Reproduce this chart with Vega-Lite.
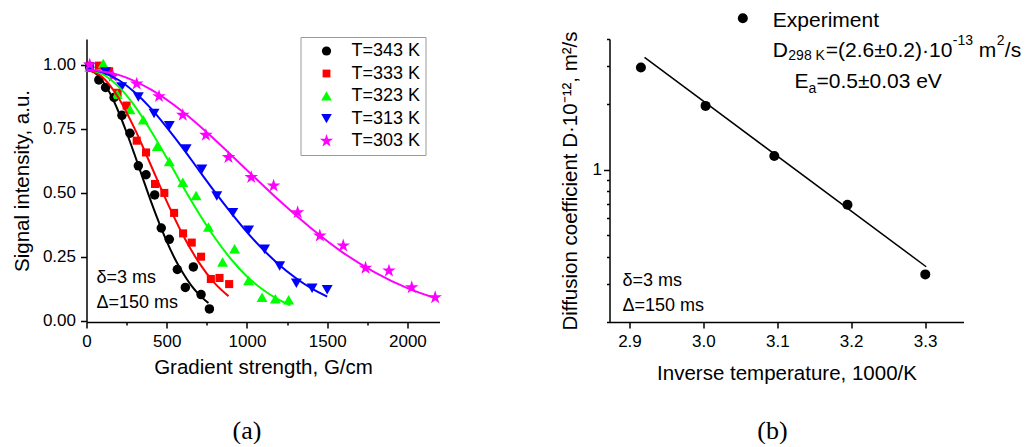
{
  "$schema": "https://vega.github.io/schema/vega-lite/v6.json",
  "background": "white",
  "padding": {"left": 11.5, "top": 9, "right": 5, "bottom": 0},
  "bounds": "flush",
  "spacing": 170,
  "config": {
    "view": {"stroke": null},
    "font": "Liberation Sans",
    "axis": {"domainColor": "black", "domainWidth": 1.5, "tickColor": "black", "tickWidth": 1.5, "labelColor": "black", "titleColor": "black", "labelFont": "Liberation Sans", "titleFont": "Liberation Sans", "labelFontSize": 17, "titleFontSize": 20.5, "titleFontWeight": "normal", "grid": false, "labelPadding": 5, "labelOverlap": false, "labelFlush": false, "labelBound": false}
  },
  "datasets": {
    "points": [
      {"G": 20, "I": 0.99, "T": "T=343 K"}, {"G": 77, "I": 0.94, "T": "T=343 K"}, {"G": 119, "I": 0.911, "T": "T=343 K"}, {"G": 172, "I": 0.872, "T": "T=343 K"}, {"G": 221, "I": 0.802, "T": "T=343 K"}, {"G": 271, "I": 0.732, "T": "T=343 K"}, {"G": 323, "I": 0.605, "T": "T=343 K"}, {"G": 371, "I": 0.57, "T": "T=343 K"}, {"G": 425, "I": 0.491, "T": "T=343 K"}, {"G": 466, "I": 0.362, "T": "T=343 K"}, {"G": 516, "I": 0.318, "T": "T=343 K"}, {"G": 566, "I": 0.2, "T": "T=343 K"}, {"G": 616, "I": 0.13, "T": "T=343 K"}, {"G": 666, "I": 0.21, "T": "T=343 K"}, {"G": 714, "I": 0.102, "T": "T=343 K"}, {"G": 766, "I": 0.046, "T": "T=343 K"},
      {"G": 20, "I": 0.995, "T": "T=333 K"}, {"G": 78, "I": 0.996, "T": "T=333 K"}, {"G": 141, "I": 0.974, "T": "T=333 K"}, {"G": 194, "I": 0.89, "T": "T=333 K"}, {"G": 250, "I": 0.84, "T": "T=333 K"}, {"G": 313, "I": 0.703, "T": "T=333 K"}, {"G": 371, "I": 0.657, "T": "T=333 K"}, {"G": 427, "I": 0.534, "T": "T=333 K"}, {"G": 485, "I": 0.499, "T": "T=333 K"}, {"G": 546, "I": 0.421, "T": "T=333 K"}, {"G": 602, "I": 0.341, "T": "T=333 K"}, {"G": 656, "I": 0.305, "T": "T=333 K"}, {"G": 714, "I": 0.25, "T": "T=333 K"}, {"G": 775, "I": 0.163, "T": "T=333 K"}, {"G": 829, "I": 0.167, "T": "T=333 K"}, {"G": 889, "I": 0.143, "T": "T=333 K"},
      {"G": 20, "I": 0.99, "T": "T=323 K"}, {"G": 104, "I": 1.003, "T": "T=323 K"}, {"G": 191, "I": 0.883, "T": "T=323 K"}, {"G": 271, "I": 0.824, "T": "T=323 K"}, {"G": 354, "I": 0.784, "T": "T=323 K"}, {"G": 441, "I": 0.68, "T": "T=323 K"}, {"G": 516, "I": 0.621, "T": "T=323 K"}, {"G": 600, "I": 0.54, "T": "T=323 K"}, {"G": 683, "I": 0.488, "T": "T=323 K"}, {"G": 760, "I": 0.365, "T": "T=323 K"}, {"G": 848, "I": 0.228, "T": "T=323 K"}, {"G": 923, "I": 0.28, "T": "T=323 K"}, {"G": 1010, "I": 0.156, "T": "T=323 K"}, {"G": 1094, "I": 0.091, "T": "T=323 K"}, {"G": 1177, "I": 0.085, "T": "T=323 K"}, {"G": 1260, "I": 0.081, "T": "T=323 K"},
      {"G": 20, "I": 0.99, "T": "T=313 K"}, {"G": 119, "I": 0.972, "T": "T=313 K"}, {"G": 219, "I": 0.914, "T": "T=313 K"}, {"G": 323, "I": 0.874, "T": "T=313 K"}, {"G": 421, "I": 0.81, "T": "T=313 K"}, {"G": 516, "I": 0.762, "T": "T=313 K"}, {"G": 621, "I": 0.671, "T": "T=313 K"}, {"G": 719, "I": 0.592, "T": "T=313 K"}, {"G": 812, "I": 0.488, "T": "T=313 K"}, {"G": 912, "I": 0.423, "T": "T=313 K"}, {"G": 1010, "I": 0.354, "T": "T=313 K"}, {"G": 1110, "I": 0.28, "T": "T=313 K"}, {"G": 1204, "I": 0.215, "T": "T=313 K"}, {"G": 1308, "I": 0.147, "T": "T=313 K"}, {"G": 1406, "I": 0.128, "T": "T=313 K"}, {"G": 1500, "I": 0.122, "T": "T=313 K"},
      {"G": 20, "I": 1.0, "T": "T=303 K"}, {"G": 164, "I": 0.955, "T": "T=303 K"}, {"G": 313, "I": 0.925, "T": "T=303 K"}, {"G": 452, "I": 0.876, "T": "T=303 K"}, {"G": 600, "I": 0.803, "T": "T=303 K"}, {"G": 744, "I": 0.725, "T": "T=303 K"}, {"G": 885, "I": 0.638, "T": "T=303 K"}, {"G": 1027, "I": 0.56, "T": "T=303 K"}, {"G": 1166, "I": 0.527, "T": "T=303 K"}, {"G": 1316, "I": 0.423, "T": "T=303 K"}, {"G": 1454, "I": 0.332, "T": "T=303 K"}, {"G": 1600, "I": 0.293, "T": "T=303 K"}, {"G": 1739, "I": 0.206, "T": "T=303 K"}, {"G": 1885, "I": 0.195, "T": "T=303 K"}, {"G": 2027, "I": 0.13, "T": "T=303 K"}, {"G": 2173, "I": 0.091, "T": "T=303 K"}
    ],
    "curves": [
      {"G": 0, "I": 0.98, "T": "T=343 K"}, {"G": 50, "I": 0.969, "T": "T=343 K"}, {"G": 100, "I": 0.936, "T": "T=343 K"}, {"G": 150, "I": 0.884, "T": "T=343 K"}, {"G": 200, "I": 0.815, "T": "T=343 K"}, {"G": 250, "I": 0.735, "T": "T=343 K"}, {"G": 300, "I": 0.648, "T": "T=343 K"}, {"G": 350, "I": 0.558, "T": "T=343 K"}, {"G": 400, "I": 0.469, "T": "T=343 K"}, {"G": 450, "I": 0.386, "T": "T=343 K"}, {"G": 500, "I": 0.31, "T": "T=343 K"}, {"G": 550, "I": 0.243, "T": "T=343 K"}, {"G": 600, "I": 0.187, "T": "T=343 K"}, {"G": 650, "I": 0.14, "T": "T=343 K"}, {"G": 700, "I": 0.103, "T": "T=343 K"}, {"G": 760, "I": 0.069, "T": "T=343 K"},
      {"G": 0, "I": 0.98, "T": "T=333 K"}, {"G": 100, "I": 0.951, "T": "T=333 K"}, {"G": 200, "I": 0.87, "T": "T=333 K"}, {"G": 300, "I": 0.75, "T": "T=333 K"}, {"G": 400, "I": 0.609, "T": "T=333 K"}, {"G": 500, "I": 0.466, "T": "T=333 K"}, {"G": 600, "I": 0.336, "T": "T=333 K"}, {"G": 700, "I": 0.228, "T": "T=333 K"}, {"G": 800, "I": 0.146, "T": "T=333 K"}, {"G": 885, "I": 0.096, "T": "T=333 K"},
      {"G": 0, "I": 0.98, "T": "T=323 K"}, {"G": 100, "I": 0.963, "T": "T=323 K"}, {"G": 200, "I": 0.914, "T": "T=323 K"}, {"G": 300, "I": 0.839, "T": "T=323 K"}, {"G": 400, "I": 0.743, "T": "T=323 K"}, {"G": 500, "I": 0.636, "T": "T=323 K"}, {"G": 600, "I": 0.525, "T": "T=323 K"}, {"G": 700, "I": 0.42, "T": "T=323 K"}, {"G": 800, "I": 0.324, "T": "T=323 K"}, {"G": 900, "I": 0.241, "T": "T=323 K"}, {"G": 1000, "I": 0.173, "T": "T=323 K"}, {"G": 1100, "I": 0.121, "T": "T=323 K"}, {"G": 1200, "I": 0.081, "T": "T=323 K"}, {"G": 1270, "I": 0.06, "T": "T=323 K"},
      {"G": 0, "I": 0.98, "T": "T=313 K"}, {"G": 100, "I": 0.97, "T": "T=313 K"}, {"G": 200, "I": 0.94, "T": "T=313 K"}, {"G": 300, "I": 0.892, "T": "T=313 K"}, {"G": 400, "I": 0.83, "T": "T=313 K"}, {"G": 500, "I": 0.755, "T": "T=313 K"}, {"G": 600, "I": 0.674, "T": "T=313 K"}, {"G": 700, "I": 0.588, "T": "T=313 K"}, {"G": 800, "I": 0.503, "T": "T=313 K"}, {"G": 900, "I": 0.422, "T": "T=313 K"}, {"G": 1000, "I": 0.346, "T": "T=313 K"}, {"G": 1100, "I": 0.278, "T": "T=313 K"}, {"G": 1200, "I": 0.219, "T": "T=313 K"}, {"G": 1300, "I": 0.169, "T": "T=313 K"}, {"G": 1400, "I": 0.127, "T": "T=313 K"}, {"G": 1500, "I": 0.094, "T": "T=313 K"},
      {"G": 0, "I": 0.98, "T": "T=303 K"}, {"G": 200, "I": 0.96, "T": "T=303 K"}, {"G": 400, "I": 0.903, "T": "T=303 K"}, {"G": 600, "I": 0.816, "T": "T=303 K"}, {"G": 800, "I": 0.707, "T": "T=303 K"}, {"G": 1000, "I": 0.588, "T": "T=303 K"}, {"G": 1200, "I": 0.47, "T": "T=303 K"}, {"G": 1400, "I": 0.361, "T": "T=303 K"}, {"G": 1600, "I": 0.265, "T": "T=303 K"}, {"G": 1800, "I": 0.188, "T": "T=303 K"}, {"G": 2000, "I": 0.127, "T": "T=303 K"}, {"G": 2180, "I": 0.087, "T": "T=303 K"}
    ],
    "exp": [
      {"invT": 2.9155, "D": 2.96, "lo": 2.87, "hi": 3.06},
      {"invT": 3.003, "D": 1.97, "lo": 1.92, "hi": 2.02},
      {"invT": 3.096, "D": 1.16, "lo": 1.13, "hi": 1.19},
      {"invT": 3.195, "D": 0.692, "lo": 0.675, "hi": 0.71},
      {"invT": 3.3003, "D": 0.331, "lo": 0.322, "hi": 0.34}
    ],
    "fit": [
      {"invT": 2.9204, "D": 3.29},
      {"invT": 3.3015, "D": 0.359}
    ]
  },
  "hconcat": [
    {
      "width": 353,
      "height": 283,
      "title": {"text": "(a)", "orient": "bottom", "anchor": "middle", "font": "Liberation Serif", "fontSize": 26, "fontWeight": "normal", "color": "black", "offset": 40, "dx": -16},
      "layer": [
        {
          "data": {"name": "points"},
          "mark": {"type": "point", "filled": true, "opacity": 1, "strokeWidth": 0, "size": 90},
          "encoding": {
            "x": {"field": "G", "type": "quantitative", "scale": {"domain": [0, 2200], "nice": false, "zero": false},
              "axis": {"title": "Gradient strength, G/cm", "values": [0, 250, 500, 750, 1000, 1250, 1500, 1750, 2000], "labelExpr": "datum.value % 500 == 0 ? format(datum.value, 'd') : ''", "tickSize": {"condition": {"test": "datum.value % 500 == 0", "value": 6}, "value": 3}, "titlePadding": 8}},
            "y": {"field": "I", "type": "quantitative", "scale": {"domain": [-0.005, 1.1], "nice": false, "zero": false},
              "axis": {"title": "Signal intensity, a.u.", "values": [0, 0.125, 0.25, 0.375, 0.5, 0.625, 0.75, 0.875, 1], "labelExpr": "(datum.value * 4) % 1 == 0 ? format(datum.value, '.2f') : ''", "tickSize": {"condition": {"test": "(datum.value * 4) % 1 == 0", "value": 6}, "value": 3}, "titlePadding": 10}},
            "color": {"field": "T", "type": "nominal", "scale": {"domain": ["T=343 K", "T=333 K", "T=323 K", "T=313 K", "T=303 K"], "range": ["#000000", "#ff0000", "#00ff00", "#0000ff", "#ff00ff"]},
              "legend": {"title": null, "orient": "none", "legendX": 214, "legendY": -2, "strokeColor": "#999999", "fillColor": "white", "padding": 5, "rowPadding": 4.5, "symbolOffset": 12, "labelOffset": 16, "labelFontSize": 18, "labelFont": "Liberation Sans", "labelColor": "black", "symbolSize": 85, "symbolStrokeWidth": 0, "symbolOpacity": 1}},
            "shape": {"field": "T", "type": "nominal", "scale": {"domain": ["T=343 K", "T=333 K", "T=323 K", "T=313 K", "T=303 K"], "range": ["circle", "M-0.85,-0.85L0.85,-0.85L0.85,0.85L-0.85,0.85Z", "M0,-1.05L1.15,0.95L-1.15,0.95Z", "M0,1.05L1.15,-0.95L-1.15,-0.95Z", "M0,-1.5L0.3368,-0.4635L1.4266,-0.4635L0.5449,0.177L0.8817,1.2135L0,0.573L-0.8817,1.2135L-0.5449,0.177L-1.4266,-0.4635L-0.3368,-0.4635Z"]}}
          }
        },
        {
          "data": {"name": "curves"},
          "mark": {"type": "line", "strokeWidth": 2, "interpolate": "monotone"},
          "encoding": {
            "x": {"field": "G", "type": "quantitative"},
            "y": {"field": "I", "type": "quantitative"},
            "stroke": {"field": "T", "type": "nominal", "scale": {"domain": ["T=343 K", "T=333 K", "T=323 K", "T=313 K", "T=303 K"], "range": ["#000000", "#ff0000", "#00ff00", "#0000ff", "#ff00ff"]}, "legend": null}
          }
        },
        {
          "data": {"values": [{}]},
          "mark": {"type": "text", "text": "δ=3 ms", "align": "left", "baseline": "alphabetic", "fontSize": 18, "font": "Liberation Sans", "color": "black"},
          "encoding": {"x": {"datum": 62}, "y": {"datum": 0.146}}
        },
        {
          "data": {"values": [{}]},
          "mark": {"type": "text", "text": "Δ=150 ms", "align": "left", "baseline": "alphabetic", "fontSize": 18, "font": "Liberation Sans", "color": "black"},
          "encoding": {"x": {"datum": 62}, "y": {"datum": 0.048}}
        }
      ]
    },
    {
      "width": 354,
      "height": 283,
      "title": {"text": "(b)", "orient": "bottom", "anchor": "middle", "font": "Liberation Serif", "fontSize": 26, "fontWeight": "normal", "color": "black", "offset": 34, "dx": -14},
      "layer": [
        {
          "data": {"name": "fit"},
          "mark": {"type": "line", "color": "black", "strokeWidth": 1.5},
          "encoding": {
            "x": {"field": "invT", "type": "quantitative", "scale": {"domain": [2.873, 3.352], "nice": false, "zero": false},
              "axis": {"title": "Inverse temperature, 1000/K", "values": [2.9, 2.95, 3.0, 3.05, 3.1, 3.15, 3.2, 3.25, 3.3, 3.35], "labelExpr": "abs(datum.value * 10 - round(datum.value * 10)) < 0.001 ? format(datum.value, '.1f') : ''", "tickSize": {"condition": {"test": "abs(datum.value * 10 - round(datum.value * 10)) < 0.001", "value": 6}, "value": 3}, "titlePadding": 14}},
            "y": {"field": "D", "type": "quantitative", "scale": {"type": "log", "domain": [0.2, 4], "nice": false},
              "axis": {"title": "Diffusion coefficient D·10⁻¹², m²/s", "values": [0.2, 0.3, 0.4, 0.5, 0.6, 0.7, 0.8, 0.9, 1, 2, 3, 4], "labelExpr": "datum.value == 1 ? '1' : ''", "tickSize": {"condition": {"test": "datum.value == 1", "value": 6}, "value": 3}, "labelPadding": 2, "titlePadding": 12}}
          }
        },
        {
          "data": {"name": "exp"},
          "mark": {"type": "rule", "color": "black", "strokeWidth": 1.5},
          "encoding": {"x": {"field": "invT", "type": "quantitative"}, "y": {"field": "lo", "type": "quantitative"}, "y2": {"field": "hi"}}
        },
        {
          "data": {"name": "exp"},
          "mark": {"type": "circle", "color": "black", "size": 100, "opacity": 1},
          "encoding": {"x": {"field": "invT", "type": "quantitative"}, "y": {"field": "D", "type": "quantitative"}}
        },
        {
          "data": {"values": [{}]},
          "mark": {"type": "circle", "color": "black", "size": 100, "opacity": 1},
          "encoding": {"x": {"datum": 3.0534}, "y": {"datum": 4.98}}
        },
        {
          "data": {"values": [{}]},
          "mark": {"type": "text", "text": "Experiment", "align": "left", "baseline": "alphabetic", "fontSize": 21, "color": "black"},
          "encoding": {"x": {"datum": 3.094}, "y": {"datum": 4.556}}
        },
        {
          "data": {"values": [{}]},
          "mark": {"type": "text", "text": "D", "align": "left", "baseline": "alphabetic", "fontSize": 21, "color": "black"},
          "encoding": {"x": {"datum": 3.094}, "y": {"datum": 3.317}}
        },
        {
          "data": {"values": [{}]},
          "mark": {"type": "text", "text": "298 K", "align": "left", "baseline": "alphabetic", "fontSize": 14, "color": "black", "dx": 15.5, "dy": 3.5},
          "encoding": {"x": {"datum": 3.094}, "y": {"datum": 3.317}}
        },
        {
          "data": {"values": [{}]},
          "mark": {"type": "text", "text": "=(2.6±0.2)·10", "align": "left", "baseline": "alphabetic", "fontSize": 21, "color": "black", "dx": 53},
          "encoding": {"x": {"datum": 3.094}, "y": {"datum": 3.317}}
        },
        {
          "data": {"values": [{}]},
          "mark": {"type": "text", "text": "-13", "align": "left", "baseline": "alphabetic", "fontSize": 14, "color": "black", "dx": 180, "dy": -11.5},
          "encoding": {"x": {"datum": 3.094}, "y": {"datum": 3.317}}
        },
        {
          "data": {"values": [{}]},
          "mark": {"type": "text", "text": "m", "align": "left", "baseline": "alphabetic", "fontSize": 21, "color": "black", "dx": 206},
          "encoding": {"x": {"datum": 3.094}, "y": {"datum": 3.317}}
        },
        {
          "data": {"values": [{}]},
          "mark": {"type": "text", "text": "2", "align": "left", "baseline": "alphabetic", "fontSize": 14, "color": "black", "dx": 224, "dy": -11.5},
          "encoding": {"x": {"datum": 3.094}, "y": {"datum": 3.317}}
        },
        {
          "data": {"values": [{}]},
          "mark": {"type": "text", "text": "/s", "align": "left", "baseline": "alphabetic", "fontSize": 21, "color": "black", "dx": 232},
          "encoding": {"x": {"datum": 3.094}, "y": {"datum": 3.317}}
        },
        {
          "data": {"values": [{}]},
          "mark": {"type": "text", "text": "E", "align": "left", "baseline": "alphabetic", "fontSize": 21, "color": "black"},
          "encoding": {"x": {"datum": 3.1233}, "y": {"datum": 2.374}}
        },
        {
          "data": {"values": [{}]},
          "mark": {"type": "text", "text": "a", "align": "left", "baseline": "alphabetic", "fontSize": 14, "color": "black", "dx": 14, "dy": 5},
          "encoding": {"x": {"datum": 3.1233}, "y": {"datum": 2.374}}
        },
        {
          "data": {"values": [{}]},
          "mark": {"type": "text", "text": "=0.5±0.03 eV", "align": "left", "baseline": "alphabetic", "fontSize": 21, "color": "black", "dx": 22},
          "encoding": {"x": {"datum": 3.1233}, "y": {"datum": 2.374}}
        },
        {
          "data": {"values": [{}]},
          "mark": {"type": "text", "text": "δ=3 ms", "align": "left", "baseline": "alphabetic", "fontSize": 18, "color": "black"},
          "encoding": {"x": {"datum": 2.8906}, "y": {"datum": 0.2926}}
        },
        {
          "data": {"values": [{}]},
          "mark": {"type": "text", "text": "Δ=150 ms", "align": "left", "baseline": "alphabetic", "fontSize": 18, "color": "black"},
          "encoding": {"x": {"datum": 2.8906}, "y": {"datum": 0.2246}}
        }
      ]
    }
  ]
}
